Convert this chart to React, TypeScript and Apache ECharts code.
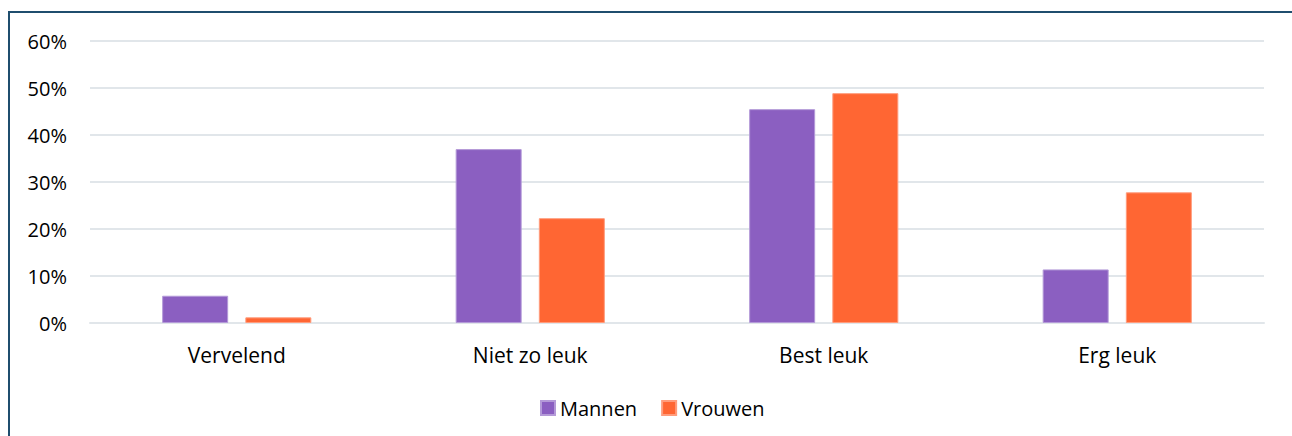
import React, { useEffect, useRef } from "react";
import * as echarts from "echarts";

const categories = ["Vervelend", "Niet zo leuk", "Best leuk", "Erg leuk"];
const mannen = [5.8, 37.0, 45.5, 11.4];
const vrouwen = [1.2, 22.3, 48.9, 27.8];
const seriesNames = ["Mannen", "Vrouwen"];
const colors = ["#8B5FC1", "#FF6633"];

export default function App() {
  const ref = useRef<HTMLDivElement>(null);
  useEffect(() => {
    if (!ref.current) return;
    const chart = echarts.init(ref.current, undefined, { renderer: "svg" });
    const font = "'Open Sans', 'Noto Sans', sans-serif";
    chart.setOption({
      animation: false,
      textStyle: { fontFamily: font },
      graphic: [
        {
          type: "rect",
          shape: { x: 9, y: 12, width: 1400, height: 500 },
          style: { fill: "none", stroke: "#1F4E6E", lineWidth: 2 },
          silent: true,
        },
      ],
      grid: { left: 90, right: 28, top: 41, bottom: 113 },
      legend: {
        data: seriesNames,
        left: 540,
        top: 398,
        padding: 0,
        itemWidth: 14,
        itemHeight: 14,
        itemGap: 24,
        icon: "rect",
        textStyle: { fontSize: 20, color: "#000", fontFamily: font },
      },
      xAxis: {
        type: "category",
        data: categories,
        axisLine: { show: true, lineStyle: { color: "#E1E6EA", width: 2 } },
        axisTick: { show: false },
        axisLabel: { color: "#000", fontSize: 21, margin: 21, fontFamily: font },
      },
      yAxis: {
        type: "value",
        min: 0,
        max: 60,
        interval: 10,
        axisLine: { show: false },
        axisTick: { show: false },
        splitLine: { lineStyle: { color: "#E1E6EA", width: 2 } },
        axisLabel: {
          color: "#000",
          fontSize: 20,
          margin: 23,
          fontFamily: font,
          formatter: "{value}%",
        },
      },
      series: [
        {
          name: seriesNames[0],
          type: "bar",
          data: mannen,
          barWidth: 66,
          barGap: "26%",
          itemStyle: { color: colors[0], borderColor: "#B49AD8", borderWidth: 1 },
        },
        {
          name: seriesNames[1],
          type: "bar",
          data: vrouwen,
          barWidth: 66,
          barGap: "26%",
          itemStyle: { color: colors[1], borderColor: "#FF9C7C", borderWidth: 1 },
        },
      ],
    });
    return () => chart.dispose();
  }, []);
  return (
    <div
      ref={ref}
      style={{ position: "fixed", left: 0, top: 0, width: 1292, height: 436, background: "#fff" }}
    />
  );
}
